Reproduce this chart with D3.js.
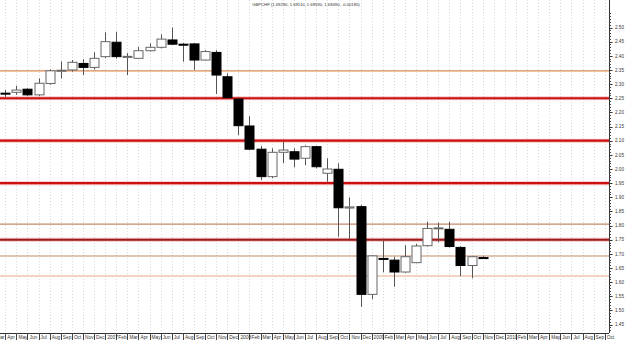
<!DOCTYPE html>
<html>
<head>
<meta charset="utf-8">
<script src="https://cdn.jsdelivr.net/npm/d3@7"></script>
<style>
html,body{margin:0;padding:0;background:#fff;}
svg{display:block;}
text{font-family:"Liberation Sans",Arial,sans-serif;}
</style>
</head>
<body>
<svg id="chart" width="625" height="340"></svg>
<script>
// ---- data (monthly GBPCHF candles) ----
const months = ["2006-04","2006-05","2006-06","2006-07","2006-08","2006-09","2006-10","2006-11","2006-12",
"2007-01","2007-02","2007-03","2007-04","2007-05","2007-06","2007-07","2007-08","2007-09","2007-10","2007-11","2007-12",
"2008-01","2008-02","2008-03","2008-04","2008-05","2008-06","2008-07","2008-08","2008-09","2008-10","2008-11","2008-12",
"2009-01","2009-02","2009-03","2009-04","2009-05","2009-06","2009-07","2009-08","2009-09","2009-10","2009-11"];
const open  = [2.268,2.271,2.282,2.262,2.302,2.347,2.350,2.373,2.359,2.397,2.448,2.396,2.391,2.418,2.430,2.456,2.441,2.442,2.385,2.412,2.326,2.247,2.152,2.070,1.973,2.059,2.061,2.038,2.079,1.985,1.999,1.862,1.867,1.557,1.684,1.678,1.636,1.669,1.729,1.789,1.787,1.723,1.659,1.687];
const high  = [2.280,2.294,2.285,2.320,2.352,2.380,2.385,2.388,2.412,2.483,2.485,2.410,2.432,2.444,2.476,2.500,2.445,2.444,2.420,2.420,2.338,2.252,2.187,2.081,2.073,2.096,2.073,2.083,2.082,2.038,2.020,1.900,1.873,1.695,1.746,1.690,1.731,1.735,1.814,1.810,1.814,1.727,1.692,1.692];
const low   = [2.255,2.262,2.258,2.258,2.298,2.320,2.344,2.332,2.352,2.391,2.390,2.332,2.389,2.415,2.426,2.438,2.379,2.350,2.383,2.265,2.250,2.120,2.068,1.961,1.967,2.020,2.006,2.014,2.002,1.955,1.761,1.753,1.513,1.540,1.635,1.584,1.634,1.667,1.726,1.741,1.722,1.622,1.614,1.683];
const close = [2.266,2.279,2.262,2.303,2.347,2.349,2.377,2.359,2.391,2.450,2.397,2.398,2.418,2.430,2.459,2.441,2.440,2.385,2.415,2.332,2.252,2.153,2.070,1.973,2.059,2.067,2.035,2.079,2.008,2.000,1.863,1.866,1.557,1.693,1.681,1.636,1.690,1.728,1.790,1.792,1.726,1.659,1.690,1.685];

// axis months (labels) Mar 2006 .. Oct 2010
const axisMonths = [];
for (let y = 2006; y <= 2010; y++) for (let m = 1; m <= 12; m++) {
  if ((y === 2006 && m < 3) || (y === 2010 && m > 10)) continue;
  axisMonths.push(y + "-" + String(m).padStart(2, "0"));
}
const monthNames = ["Jan","Feb","Mar","Apr","May","Jun","Jul","Aug","Sep","Oct","Nov","Dec"];

// horizontal level lines
const levelValues = [2.347, 2.25, 2.10, 1.95, 1.805, 1.75, 1.6925, 1.622];
const levelKinds  = ["orange","red","red","red","brown","darkred","brown","peach"];

const yTicks = d3.range(1.45, 2.5001, 0.05);
const title = "GBPCHF (1.69290, 1.69110, 1.68590, 1.68490, -0.00180)";

// ---- layout ----
const svg = d3.select("#chart");
const axisX = 609, axisY = 333;
const x = d3.scalePoint().domain(axisMonths).range([-5.8, -5.8 + 11.1 * (axisMonths.length - 1)]);
const y = d3.scaleLinear().domain([1.45, 2.50]).range([324.65, 27.5]);

// vertical dotted grid
svg.append("g").selectAll("line").data(axisMonths).join("line")
  .attr("x1", d => Math.round(x(d)) + 0.5).attr("x2", d => Math.round(x(d)) + 0.5)
  .attr("y1", 0).attr("y2", axisY)
  .attr("stroke", "#dadada").attr("stroke-width", 1).attr("stroke-dasharray", "1,2");

// level lines
const levelStyle = {
  red:     {c: "#cc1010", w: 2.2, halo: "rgba(230,90,90,0.35)"},
  darkred: {c: "#a01818", w: 2.2, halo: "rgba(200,80,80,0.35)"},
  orange:  {c: "#d98a50", w: 1.2, halo: null},
  brown:   {c: "#c48a6a", w: 1.2, halo: null},
  peach:   {c: "#ecc6ac", w: 1.4, halo: null}
};
const lg = svg.append("g");
levelValues.forEach((v, i) => {
  const s = levelStyle[levelKinds[i]];
  if (s.halo) lg.append("line").attr("x1", 0).attr("x2", axisX).attr("y1", y(v)).attr("y2", y(v))
      .attr("stroke", s.halo).attr("stroke-width", 4);
  lg.append("line").attr("x1", 0).attr("x2", axisX).attr("y1", y(v)).attr("y2", y(v))
    .attr("stroke", s.c).attr("stroke-width", s.w);
});

// candles
const data = months.map((m, i) => ({m, o: open[i], h: high[i], l: low[i], c: close[i]}));
const bw = 9;
const cg = svg.append("g");
cg.selectAll("line.wick").data(data).join("line").attr("class", "wick")
  .attr("x1", d => Math.round(x(d.m)) + 0.5).attr("x2", d => Math.round(x(d.m)) + 0.5)
  .attr("y1", d => y(d.h)).attr("y2", d => y(d.l))
  .attr("stroke", "#555").attr("stroke-width", 1);
cg.selectAll("rect").data(data).join("rect")
  .attr("x", d => Math.round(x(d.m)) - bw / 2 + 0.5)
  .attr("width", bw)
  .attr("y", d => y(Math.max(d.o, d.c)))
  .attr("height", d => Math.max(1, Math.abs(y(d.o) - y(d.c))))
  .attr("fill", d => d.c >= d.o ? "#fff" : "#000")
  .attr("stroke", d => d.c >= d.o ? "#666" : "#000")
  .attr("stroke-width", 1);

// right axis
const ya = svg.append("g").attr("transform", `translate(${axisX},0)`);
ya.append("line").attr("x1", 0.5).attr("x2", 0.5).attr("y1", 0).attr("y2", axisY).attr("stroke", "#333");
ya.selectAll("line.minor").data(d3.range(1.40, 2.5501, 0.01).filter(v => y(v) > 0 && y(v) < axisY)).join("line")
  .attr("class", "minor").attr("x1", 0).attr("x2", 2).attr("y1", d => Math.round(y(d)) + 0.5).attr("y2", d => Math.round(y(d)) + 0.5)
  .attr("stroke", "#444");
ya.selectAll("line.major").data(yTicks).join("line")
  .attr("class", "major").attr("x1", 0).attr("x2", 3.5).attr("y1", d => Math.round(y(d)) + 0.5).attr("y2", d => Math.round(y(d)) + 0.5)
  .attr("stroke", "#333");
ya.selectAll("text").data(yTicks).join("text")
  .attr("x", 6).attr("y", d => y(d) + 1.7)
  .attr("font-size", 4.6).attr("fill", "#333")
  .text(d => d3.format(".2f")(d));

// bottom axis
const xa = svg.append("g");
xa.append("line").attr("x1", 0).attr("x2", axisX).attr("y1", axisY + 0.5).attr("y2", axisY + 0.5).attr("stroke", "#333");
xa.selectAll("line.t").data(axisMonths).join("line").attr("class", "t")
  .attr("x1", d => Math.round(x(d)) + 0.5).attr("x2", d => Math.round(x(d)) + 0.5)
  .attr("y1", axisY).attr("y2", 340).attr("stroke", "#444");
xa.selectAll("text").data(axisMonths).join("text")
  .attr("x", d => x(d) + 2).attr("y", 339)
  .attr("font-size", 4.8).attr("fill", "#333")
  .text(d => { const [yy, mm] = d.split("-"); return mm === "01" ? yy : monthNames[+mm - 1]; });

// title
svg.append("text").attr("x", 306).attr("y", 6).attr("text-anchor", "middle")
  .attr("font-size", 4.2).attr("fill", "#333").text(title);
</script>
</body>
</html>
